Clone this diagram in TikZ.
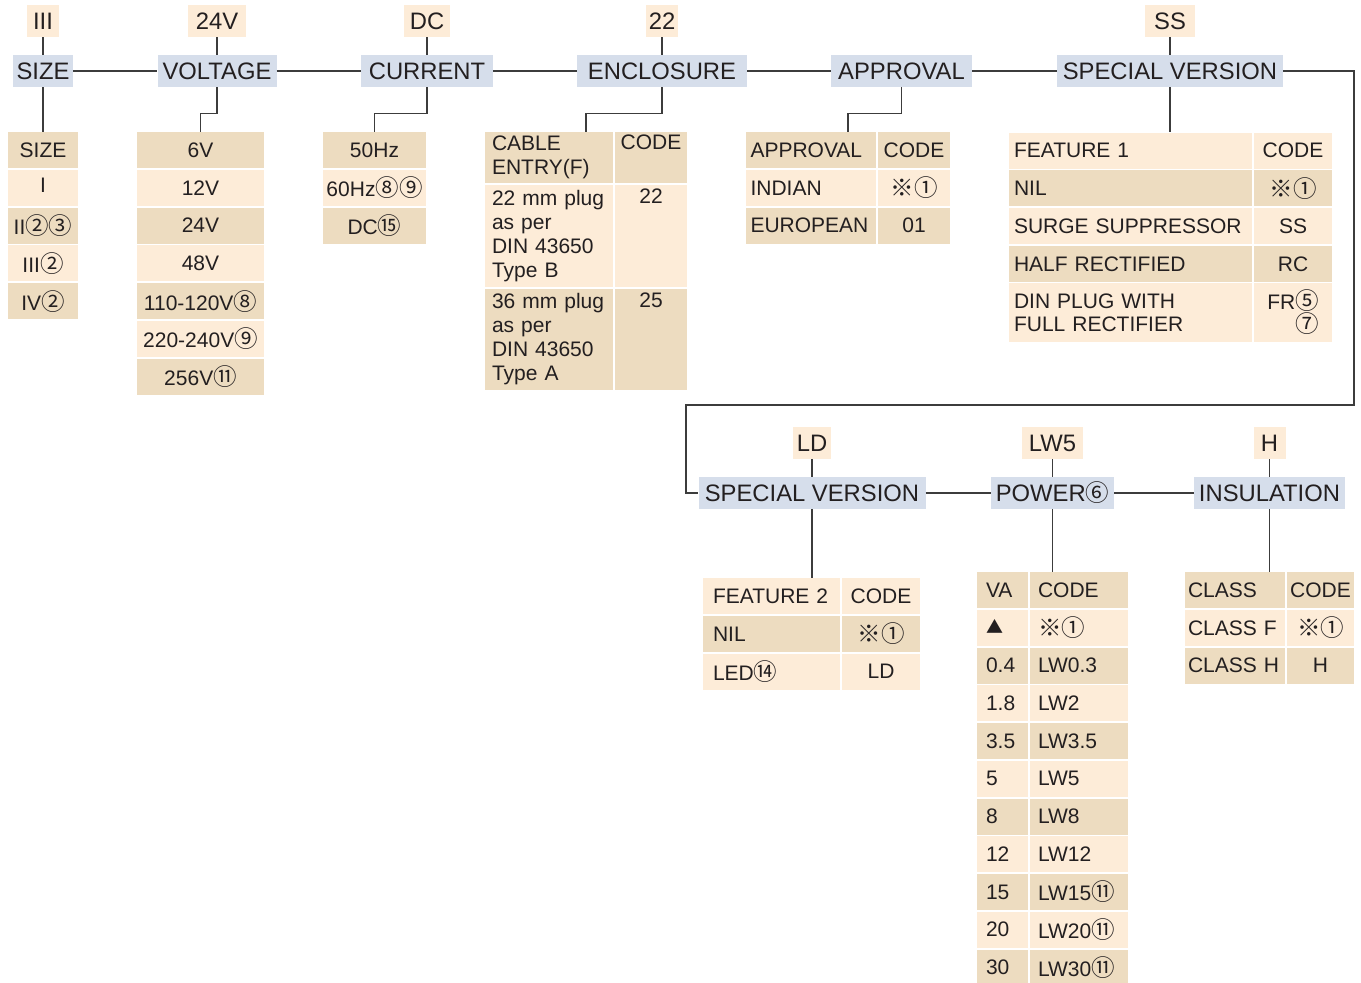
\documentclass[tikz,border=0pt]{standalone}
\usepackage{fontspec}
\setmainfont{Liberation Sans}
\newfontfamily\cjk{Noto Sans CJK SC}
\definecolor{hdrblue}{HTML}{D6DEEB}
\definecolor{lt}{HTML}{FDECD8}
\definecolor{dk}{HTML}{EDDCC0}
\definecolor{ink}{HTML}{231F20}
\definecolor{wirec}{HTML}{3C3C3C}
\newcommand\hfont{\fontsize{23.8}{28}\selectfont}
\newcommand\cfont{\fontsize{21}{24}\selectfont}
\newcommand\cn[1]{{\cjk\fontsize{23.5}{24}\selectfont #1}}
\newcommand\tri{\raisebox{3pt}{\cjk\fontsize{17}{17}\selectfont ▲}}

\begin{document}
\begin{tikzpicture}[x=1pt,y=-1pt,text=ink,
  hdr/.style={fill=hdrblue,minimum height=32pt,inner sep=0pt,font=\hfont},
  pick/.style={fill=lt,minimum height=32pt,inner sep=0pt,font=\hfont},
  cell/.style={minimum height=36pt,inner sep=0pt,font=\cfont},
  wire/.style={draw=wirec,line width=1.4pt}]
\useasboundingbox (0,0) rectangle (1361,983);

% headers
\node[hdr,minimum width=60pt] (size) at (43,71) {SIZE};
\node[hdr,minimum width=119pt] (volt) at (217,71) {VOLTAGE};
\node[hdr,minimum width=132pt] (curr) at (427,71) {CURRENT};
\node[hdr,minimum width=170pt] (encl) at (662,71) {ENCLOSURE};
\node[hdr,minimum width=141pt] (appr) at (901.5,71) {APPROVAL};
\node[hdr,minimum width=226pt] (spec) at (1170,71) {SPECIAL VERSION};
\node[hdr,minimum width=227pt] (specb) at (812,493) {SPECIAL VERSION};
\node[hdr,minimum width=123pt] (power) at (1052.5,493) {POWER\cn{⑥}};
\node[hdr,minimum width=151pt] (insul) at (1269.5,493) {INSULATION};

% selected codes
\node[pick,minimum width=32pt] (pSize) at (43,21) {III};
\node[pick,minimum width=58pt] (pVolt) at (217,21) {24V};
\node[pick,minimum width=46pt] (pCurr) at (427,21) {DC};
\node[pick,minimum width=32pt] (pEncl) at (662,21) {22};
\node[pick,minimum width=50pt] (pSpec) at (1170,21) {SS};
\node[pick,minimum width=38pt] (pSpecb) at (812,443) {LD};
\node[pick,minimum width=61pt] (pPower) at (1052.5,443) {LW5};
\node[pick,minimum width=32pt] (pInsul) at (1269.5,443) {H};

% one-column tables
\foreach \t/\c [count=\i from 0] in {SIZE/dk,\raisebox{5pt}{I}/lt,II\cn{②③}/dk,III\cn{②}/lt,IV\cn{②}/dk}
  \node[cell,fill=\c,minimum width=70pt] (sz\i) at (43,150+37.8*\i) {\t};
\foreach \t/\c [count=\i from 0] in {6V/dk,12V/lt,24V/dk,48V/lt,110-120V\cn{⑧}/dk,220-240V\cn{⑨}/lt,256V\cn{⑪}/dk}
  \node[cell,fill=\c,minimum width=127pt] (vo\i) at (200.5,150+37.8*\i) {\t};
\foreach \t/\c [count=\i from 0] in {50Hz/dk,60Hz\cn{⑧⑨}/lt,DC\cn{⑮}/dk}
  \node[cell,fill=\c,minimum width=103pt] (cu\i) at (374.5,150+37.8*\i) {\t};

% enclosure
\node[cell,fill=dk,minimum height=51pt,text width=114pt,inner xsep=7pt,align=left] (en0) at (549,157.5) {CABLE\\ENTRY(F)};
\node[cell,fill=dk,minimum height=51pt,minimum width=72pt,align=center] (enc0) at (651,157.5) {CODE\\\strut};
\node[cell,fill=lt,minimum height=102pt,text width=114pt,inner xsep=7pt,align=left] (en1) at (549,236) {22 mm plug\\as per\\DIN 43650\\Type B};
\node[cell,fill=lt,minimum height=102pt,minimum width=72pt,align=center] (enc1) at (651,236) {22\\\strut\\\strut\\\strut};
\node[cell,fill=dk,minimum height=101pt,text width=114pt,inner xsep=7pt,align=left] (en2) at (549,339.5) {36 mm plug\\as per\\DIN 43650\\Type A};
\node[cell,fill=dk,minimum height=101pt,minimum width=72pt,align=center] (enc2) at (651,339.5) {25\\\strut\\\strut\\\strut};

% approval
\foreach \a/\b/\c [count=\i from 0] in {APPROVAL/CODE/dk,INDIAN/\cn{※①}/lt,EUROPEAN/01/dk}{
  \node[cell,fill=\c,text width=121pt,inner xsep=4.5pt,align=left] (ap\i) at (811,150+37.8*\i) {\a};
  \node[cell,fill=\c,minimum width=72pt] (apc\i) at (914,150+37.8*\i) {\b};
}

% feature 1
\foreach \a/\b/\c [count=\i from 0] in {FEATURE 1/\raisebox{-3pt}{CODE}/lt,NIL/\cn{※①}/dk,SURGE SUPPRESSOR/SS/lt,HALF RECTIFIED/RC/dk}{
  \node[cell,fill=\c,text width=233pt,inner xsep=5pt,align=left] (fa\i) at (1130.5,150.5+37.8*\i) {\a};
  \node[cell,fill=\c,minimum width=78pt] (fac\i) at (1293,150.5+37.8*\i) {\b};
}
\node[cell,fill=lt,minimum height=59pt,text width=233pt,inner xsep=5pt,align=left,font=\fontsize{21}{23}\selectfont] (fa4) at (1130.5,312.5) {DIN PLUG WITH\\FULL RECTIFIER};
\node[cell,fill=lt,minimum height=59pt,minimum width=78pt,align=right,font=\fontsize{21}{21}\selectfont] (fac4) at (1293,312.5) {FR\cn{⑤}\\\cn{⑦}};

% feature 2
\foreach \a/\b/\c [count=\i from 0] in {FEATURE 2/\raisebox{-3pt}{CODE}/lt,NIL/\cn{※①}/dk,\raisebox{-4pt}{LED\cn{⑭}}/LD/lt}{
  \node[cell,fill=\c,text width=117pt,inner xsep=10pt,align=left] (fb\i) at (771.5,596+37.8*\i) {\a};
  \node[cell,fill=\c,minimum width=78pt] (fbc\i) at (881,596+37.8*\i) {\b};
}

% power
\foreach \a/\b/\c [count=\i from 0] in {VA/CODE/dk,\tri/\cn{※①}/lt,0.4/LW0.3/dk,1.8/LW2/lt,3.5/LW3.5/dk,5/LW5/lt,8/LW8/dk,12/LW12/lt,15/LW15\cn{⑪}/dk,20/LW20\cn{⑪}/lt,30/LW30\cn{⑪}/dk}{
  \node[cell,fill=\c,text width=33pt,inner xsep=9pt,align=left] (pw\i) at (1002.5,590+37.75*\i) {\a};
  \node[cell,fill=\c,text width=82pt,inner xsep=8pt,align=left] (pwc\i) at (1079,590+37.75*\i) {\b};
}

% insulation
\foreach \a/\b/\c [count=\i from 0] in {CLASS/CODE/dk,CLASS F/\cn{※①}/lt,CLASS H/H/dk}{
  \node[cell,fill=\c,text width=94pt,inner xsep=3pt,align=left] (in\i) at (1235,590+37.8*\i) {\a};
  \node[cell,fill=\c,minimum width=67pt] (inc\i) at (1320.5,590+37.8*\i) {\b};
}

% table tops
\coordinate (enTop) at (586,132);
\coordinate (apTop) at (848,132);
\coordinate (faTop) at (1170,132);
\coordinate (fbTop) at (812,578);
\coordinate (pwTop) at (1052.5,572);
\coordinate (inTop) at (1269.5,572);
\coordinate (wrapR) at (1354,405);
\coordinate (wrapL) at (686,405);

% connectors
\foreach \a/\b in {pSize/size,pVolt/volt,pCurr/curr,pEncl/encl,pSpec/spec,pSpecb/specb,pPower/power,pInsul/insul,
  size/volt,volt/curr,curr/encl,encl/appr,appr/spec,specb/power,power/insul,size/sz0}
  \draw[wire] (\a) -- (\b);
\draw[wire] (volt.south) -- ++(0,26) -| (vo0.north);
\draw[wire] (curr.south) -- ++(0,26) -| (cu0.north);
\draw[wire] (encl.south) -- ++(0,26) -| (enTop);
\draw[wire] (appr.south) -- ++(0,26) -| (apTop);
\draw[wire] (spec.south) -- (faTop);
\draw[wire] (specb.south) -- (fbTop);
\draw[wire] (power.south) -- (pwTop);
\draw[wire] (insul.south) -- (inTop);
\draw[wire] (spec.east) -| (wrapR) -- (wrapL) |- (specb.west);
\end{tikzpicture}
\end{document}
